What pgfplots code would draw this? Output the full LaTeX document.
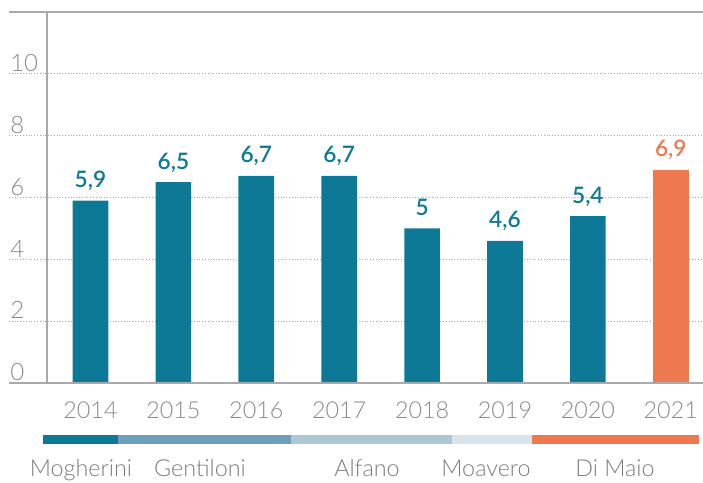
\documentclass[border=0pt]{standalone}
\usepackage{pgfplots}
\pgfplotsset{compat=1.18}
\usepackage{fontspec}
\setmainfont{Lato}[UprightFont={* Light}, BoldFont={* Semibold}]
\definecolor{teal1}{HTML}{0D7996}
\definecolor{orange1}{HTML}{EE7850}
\definecolor{seg2}{HTML}{6C9FBA}
\definecolor{seg3}{HTML}{AFC6D6}
\definecolor{seg4}{HTML}{D9E3EC}
\definecolor{txtgray}{HTML}{8A8A8A}
\definecolor{linegray}{HTML}{A8A8AE}
\begin{document}
\begin{tikzpicture}
\begin{axis}[
  at={(35.25pt,74.25pt)}, anchor=south west,
  scale only axis, width=492pt, height=278.25pt,
  xmin=-0.5247, xmax=7.389, ymin=0, ymax=12,
  ybar, bar width=0.43, bar shift=0pt,
  axis line style={draw=none}, major tick length=0pt,
  xtick={0,1,2,3,4,5,6,7},
  xticklabels={2014,2015,2016,2017,2018,2019,2020,2021},
  ytick={0,2,4,6,8,10},
  /pgf/number format/assume math mode=true,
  /pgf/number format/use comma,
  xticklabel style={anchor=base, yshift=-26.25pt, font=\fontsize{17.5}{17.5}\selectfont, text=txtgray},
  yticklabel style={anchor=south west, xshift=-27.75pt, inner sep=0pt, yshift=1.5pt, text depth=0pt, font=\fontsize{18}{18}\selectfont, text=txtgray},
  clip=false,
  nodes near coords,
  every node near coord/.append style={font=\bfseries\fontsize{17}{17}\selectfont, anchor=south, inner sep=0pt, yshift=9.5pt, text depth=0pt},
]
\pgfplotsinvokeforeach{2,4,6,8,10}{
  \draw[linegray, line width=0.8pt, dash pattern=on 0.7pt off 1.4pt] (axis cs:-0.983,#1) -- (axis cs:7.389,#1);
}
\addplot[fill=teal1, draw=none, nodes near coords style={text=teal1}] coordinates {
  (0,5.9) (1,6.5) (2,6.7) (3,6.7) (4,5) (5,4.6) (6,5.4)
};
\addplot[fill=orange1, draw=none, nodes near coords style={text=orange1}] coordinates {
  (7,6.9)
};
\draw[linegray, line width=1.1pt] (axis cs:-0.983,12) -- (axis cs:7.389,12);
\draw[linegray, line width=1.1pt] (axis cs:-0.983,0) -- (axis cs:7.389,0);
\draw[linegray, line width=1.1pt] (axis cs:-0.5247,0) -- (axis cs:-0.5247,12);
% leader bands
\fill[teal1] (axis cs:-0.573,-1.677) rectangle (axis cs:0.332,-1.968);
\fill[seg2] (axis cs:0.332,-1.677) rectangle (axis cs:2.418,-1.968);
\fill[seg3] (axis cs:2.418,-1.677) rectangle (axis cs:4.360,-1.968);
\fill[seg4] (axis cs:4.360,-1.677) rectangle (axis cs:5.325,-1.968);
\fill[orange1] (axis cs:5.325,-1.677) rectangle (axis cs:7.340,-1.968);
\begin{scope}[every node/.style={anchor=base, inner sep=0pt, font=\fontsize{17.5}{17.5}\selectfont, text=txtgray!90!black}]
\node at (axis cs:-0.115,-3.032) {Mogherini};
\node at (axis cs:1.321,-3.032) {Gentiloni};
\node at (axis cs:3.335,-3.032) {Alfano};
\node at (axis cs:4.771,-3.032) {Moavero};
\node at (axis cs:6.327,-3.032) {Di Maio};
\end{scope}
\end{axis}
\pgfresetboundingbox
\path (0,0) rectangle (527.25pt,361.5pt);
\end{tikzpicture}
\end{document}
